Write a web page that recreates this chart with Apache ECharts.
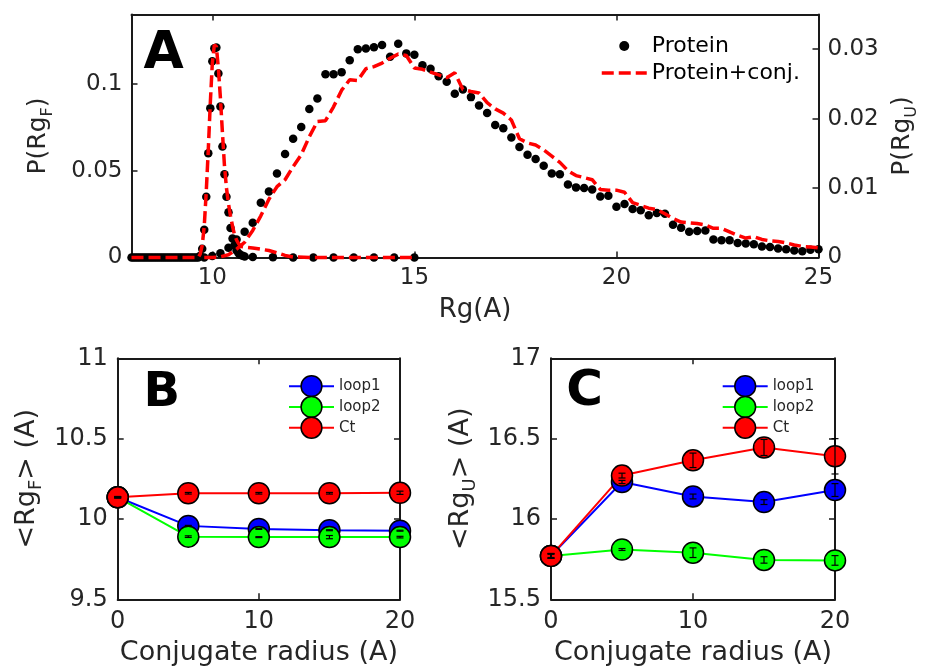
<!DOCTYPE html>
<html><head><meta charset="utf-8">
<script src="https://cdn.jsdelivr.net/npm/echarts@6/dist/echarts.min.js"></script>
<style>html,body{margin:0;padding:0;background:#fff}#c{width:927px;height:670px}</style>
</head><body><div id="c"></div>
<script>
// ---------- Panel A data ----------
// folded (left axis): Protein (dots)
const rgF = [8.00,8.05,8.10,8.15,8.20,8.25,8.30,8.35,8.40,8.45,8.50,8.55,8.60,8.65,8.70,8.75,8.80,8.85,8.90,8.95,
  9.00,9.05,9.10,9.15,9.20,9.25,9.30,9.35,9.40,9.45,9.50,9.55,9.60,9.65,
  9.70,9.75,9.80,9.85,9.90,9.95,10.00,10.05,10.10,10.15,10.20,10.25,10.30,10.35,10.40,10.45,10.50,10.55,10.60,10.65,10.70,10.75,10.80,
  11.0,11.5,12.0,12.5,13.0,13.5,14.0,14.5,15.0];
const pF = [0,0,0,0,0,0,0,0,0,0,0,0,0,0,0,0,0,0,0,0,
  0,0,0,0,0,0,0,0,0,0,0,0,0,0,
  0.001,0.005,0.016,0.035,0.060,0.086,0.113,0.1205,0.121,0.106,0.087,0.064,0.048,0.035,0.026,0.017,0.011,0.007,0.004,0.0025,0.0015,0.001,0.0006,
  0.0003,0.0001,0,0,0,0,0,0,0];
// folded (left axis): Protein+conj. (dashed)
const rgFc = [8.00,8.05,8.10,8.15,8.20,8.25,8.30,8.35,8.40,8.45,8.50,8.55,8.60,8.65,8.70,8.75,8.80,8.85,8.90,8.95,
  9.00,9.05,9.10,9.15,9.20,9.25,9.30,9.35,9.40,9.45,9.50,9.55,9.60,9.65,
  9.70,9.75,9.80,9.85,9.90,9.95,10.00,10.05,10.10,10.15,10.20,10.25,10.30,10.35,10.40,10.45,10.50,10.55,10.60,10.65,10.70,10.75,10.80,
  11.0,11.2,11.4,11.6,11.8,12.0,12.5,13.0,13.5,14.0,14.5,15.0];
const pFc = [0,0,0,0,0,0,0,0,0,0,0,0,0,0,0,0,0,0,0,0,
  0,0,0,0,0,0,0,0,0,0,0,0,0,0,
  0.002,0.007,0.018,0.038,0.062,0.089,0.112,0.1225,0.1215,0.109,0.092,0.072,0.053,0.040,0.031,0.024,0.018,0.013,0.010,0.008,0.0065,0.0062,0.006,
  0.0055,0.0048,0.004,0.0027,0.0012,0.0003,0,0,0,0,0,0];
// unfolded (right axis)
const rgU = [9.8,10.0,10.2,10.4,10.6,10.8,11.0,11.2,11.4,11.6,11.8,12.0,12.2,12.4,12.6,12.8,13.0,13.2,13.4,13.6,
  13.8,14.0,14.2,14.4,14.6,14.8,15.0,15.2,15.4,15.6,15.8,16.0,16.2,16.4,16.6,16.8,17.0,17.2,17.4,17.6,
  17.8,18.0,18.2,18.4,18.6,18.8,19.0,19.2,19.4,19.6,19.8,20.0,20.2,20.4,20.6,20.8,21.0,21.2,21.4,21.6,
  21.8,22.0,22.2,22.4,22.6,22.8,23.0,23.2,23.4,23.6,23.8,24.0,24.2,24.4,24.6,24.8,25.0];
const pU = [0,0.0002,0.0006,0.0014,0.0026,0.0037,0.0050,0.0079,0.0095,0.0121,
  0.0149,0.0171,0.0188,0.0214,0.0229,0.0264,0.0264,0.0267,0.0284,0.0300,
  0.0301,0.0303,0.0306,0.0289,0.0308,0.0294,0.0292,0.0277,0.0272,0.0261,
  0.0253,0.0236,0.0242,0.0231,0.0219,0.0208,0.0191,0.0186,0.0173,0.0159,
  0.0148,0.0142,0.0132,0.0121,0.0120,0.0105,0.0101,0.0100,0.0098,0.0088,
  0.0089,0.0073,0.0077,0.0070,0.0068,0.0061,0.0064,0.0063,0.0047,0.0043,
  0.0037,0.0038,0.0039,0.0026,0.0025,0.0025,0.0021,0.0020,0.0019,0.0016,
  0.0015,0.0013,0.0012,0.0010,0.0009,0.0011,0.0012];
const pUc = [0,0,0.0001,0.0004,0.0012,0.0022,0.0039,0.0060,0.0084,0.0102,
  0.0112,0.0131,0.0148,0.0174,0.0196,0.0197,0.0217,0.0241,0.0256,0.0255,
  0.0272,0.0275,0.0280,0.0287,0.0293,0.0291,0.0273,0.0271,0.0267,0.0263,
  0.0259,0.0266,0.0242,0.0239,0.0237,0.0223,0.0214,0.0208,0.0198,0.0171,
  0.0165,0.0162,0.0155,0.0146,0.0137,0.0125,0.0118,0.0115,0.0112,0.0098,
  0.0097,0.0097,0.0094,0.0079,0.0075,0.0071,0.0069,0.0063,0.0056,0.0051,
  0.0050,0.0049,0.0047,0.0042,0.0042,0.0037,0.0032,0.0028,0.0030,0.0026,
  0.0024,0.0023,0.0021,0.0018,0.0016,0.0015,0.0014];
const xTicksA = [10,15,20,25];
const yTicksAL = [0,0.05,0.1];
const yTicksAR = [0,0.01,0.02,0.03];

// ---------- Panels B and C data ----------
const radius = [0,5,10,15,20];
const loop1B = [10.135,9.957,9.938,9.930,9.927];
const loop1Be = [0.003,0.003,0.003,0.003,0.003];
const loop2B = [10.135,9.890,9.887,9.887,9.887];
const loop2Be = [0.003,0.005,0.003,0.010,0.005];
const ctB = [10.135,10.160,10.160,10.160,10.163];
const ctBe = [0.005,0.005,0.005,0.005,0.010];
const loop1C = [15.77,16.23,16.14,16.105,16.18];
const loop1Ce = [0.015,0.010,0.015,0.015,0.040];
const loop2C = [15.77,15.81,15.79,15.745,15.742];
const loop2Ce = [0.010,0.006,0.030,0.020,0.030];
const ctC = [15.77,16.27,16.365,16.445,16.39];
const ctCe = [0.015,0.015,0.045,0.050,0.110];

// ---------- style ----------
const FONT = 'DejaVu Sans';
const TXT = '#262626';
const AX = '#1a1a1a';
const zip = (a, b) => a.map((v, i) => [v, b[i]]);
const errData = (v, e) => radius.map((r, i) => [r, v[i] - e[i], v[i] + e[i]]);

function axLine(){ return {show:true,onZero:false,lineStyle:{color:AX,width:2}}; }
function axTick(extra){ return Object.assign({show:true,inside:true,length:6,lineStyle:{color:AX,width:1.5}}, extra||{}); }
function axLabel(fs, extra){ return Object.assign({fontSize:fs,color:TXT,fontFamily:FONT,margin:9}, extra||{}); }
function richName(main, sub, lh){
  return {fontFamily:FONT,color:TXT,rich:{
    a:{fontSize:main,fontFamily:FONT,color:TXT,lineHeight:lh,verticalAlign:'top'},
    s:{fontSize:sub,fontFamily:FONT,color:TXT,verticalAlign:'bottom'}}};
}

function errRender(params, api){
  const x = api.value(0), lo = api.value(1), hi = api.value(2);
  const p1 = api.coord([x, lo]), p2 = api.coord([x, hi]);
  const w = 3.5;
  const st = {stroke:'#000', lineWidth:1.2};
  return {type:'group', children:[
    {type:'line', shape:{x1:p1[0],y1:p1[1],x2:p2[0],y2:p2[1]}, style:st},
    {type:'line', shape:{x1:p1[0]-w,y1:p1[1],x2:p1[0]+w,y2:p1[1]}, style:st},
    {type:'line', shape:{x1:p2[0]-w,y1:p2[1],x2:p2[0]+w,y2:p2[1]}, style:st}
  ]};
}

function lineSeries(name, color, xi, yi, data){
  return {type:'line', name:name, xAxisIndex:xi, yAxisIndex:yi, data:data,
    symbol:'circle', symbolSize:21, showSymbol:true, clip:false,
    lineStyle:{color:color,width:2}, itemStyle:{color:color,borderColor:'#000',borderWidth:1.5,opacity:1},
    emphasis:{disabled:true}};
}
function errSeries(xi, yi, data){
  return {type:'custom', xAxisIndex:xi, yAxisIndex:yi, data:data, renderItem:errRender,
    encode:{x:0,y:[1,2]}, z:10, silent:true, clip:false};
}

const legBC = (left) => ({data:['loop1','loop2','Ct'], left:left, top:375, orient:'vertical', padding:0,
  itemWidth:45, itemHeight:26, itemGap:-1.5, selectedMode:false, lineStyle:{width:2},
  itemStyle:{borderColor:'#000',borderWidth:1.5}, textStyle:{fontSize:15,fontFamily:FONT,color:TXT}});

const chart = echarts.init(document.getElementById('c'), null, {renderer:'canvas'});
const option = {
  animation:false,
  backgroundColor:'#fff',
  grid:[
    {left:131.5, top:14.5, width:687, height:243, outerBoundsMode:'none', containLabel:false},
    {left:117.7, top:358.3, width:282.3, height:241, outerBoundsMode:'none', containLabel:false},
    {left:551, top:358.3, width:284, height:241, outerBoundsMode:'none', containLabel:false}
  ],
  xAxis:[
    {gridIndex:0, type:'value', position:'bottom', min:8, max:25, axisLine:axLine(),
     axisTick:axTick({customValues:xTicksA}), axisLabel:axLabel(23,{customValues:xTicksA}), splitLine:{show:false},
     name:'Rg(A)', nameLocation:'middle', nameGap:40, nameTextStyle:{fontSize:26,fontFamily:FONT,color:TXT}},
    {gridIndex:0, type:'value', position:'top', min:8, max:25, axisLine:axLine(),
     axisTick:axTick({customValues:xTicksA}), axisLabel:{show:false}, splitLine:{show:false}},
    {gridIndex:1, type:'value', position:'bottom', min:0, max:20, interval:10, axisLine:axLine(),
     axisTick:axTick(), axisLabel:axLabel(24,{margin:10}), splitLine:{show:false},
     name:'Conjugate radius (A)', nameLocation:'middle', nameGap:40, nameTextStyle:{fontSize:27,fontFamily:FONT,color:TXT}},
    {gridIndex:1, type:'value', position:'top', min:0, max:20, interval:10, axisLine:axLine(),
     axisTick:axTick(), axisLabel:{show:false}, splitLine:{show:false}},
    {gridIndex:2, type:'value', position:'bottom', min:0, max:20, interval:10, axisLine:axLine(),
     axisTick:axTick(), axisLabel:axLabel(24,{margin:10}), splitLine:{show:false},
     name:'Conjugate radius (A)', nameLocation:'middle', nameGap:40, nameTextStyle:{fontSize:27,fontFamily:FONT,color:TXT}},
    {gridIndex:2, type:'value', position:'top', min:0, max:20, interval:10, axisLine:axLine(),
     axisTick:axTick(), axisLabel:{show:false}, splitLine:{show:false}}
  ],
  yAxis:[
    {gridIndex:0, type:'value', position:'left', min:0, max:0.14, axisLine:axLine(),
     axisTick:axTick({customValues:yTicksAL}), axisLabel:axLabel(23,{customValues:yTicksAL}), splitLine:{show:false},
     name:'{a|P(Rg}{s|F}{a|)}', nameLocation:'middle', nameGap:76, nameTextStyle:richName(25,16,30)},
    {gridIndex:0, type:'value', position:'right', min:0, max:0.035, axisLine:axLine(),
     axisTick:axTick({customValues:yTicksAR}), axisLabel:axLabel(23,{customValues:yTicksAR}), splitLine:{show:false},
     name:'{a|P(Rg}{s|U}{a|)}', nameLocation:'middle', nameGap:70, nameTextStyle:richName(25,16,30)},
    {gridIndex:1, type:'value', position:'left', min:9.5, max:11, interval:0.5, axisLine:axLine(),
     axisTick:axTick(), axisLabel:axLabel(24,{margin:10}), splitLine:{show:false},
     name:'{a|<Rg}{s|F}{a|> (A)}', nameLocation:'middle', nameGap:72, nameTextStyle:richName(27,18,32)},
    {gridIndex:1, type:'value', position:'right', min:9.5, max:11, interval:0.5, axisLine:axLine(),
     axisTick:axTick(), axisLabel:{show:false}, splitLine:{show:false}},
    {gridIndex:2, type:'value', position:'left', min:15.5, max:17, interval:0.5, axisLine:axLine(),
     axisTick:axTick(), axisLabel:axLabel(24,{margin:10}), splitLine:{show:false},
     name:'{a|<Rg}{s|U}{a|> (A)}', nameLocation:'middle', nameGap:72, nameTextStyle:richName(27,18,32)},
    {gridIndex:2, type:'value', position:'right', min:15.5, max:17, interval:0.5, axisLine:axLine(),
     axisTick:axTick(), axisLabel:{show:false}, splitLine:{show:false}}
  ],
  legend:[
    {data:['Protein',{name:'Protein+conj.', itemStyle:{opacity:0}}], left:600, top:35, orient:'vertical', padding:0,
     itemWidth:45, itemHeight:10, itemGap:5, selectedMode:false, lineStyle:{width:3.5},
     textStyle:{fontSize:22,fontFamily:FONT,color:'#000',lineHeight:22}},
    legBC(288),
    legBC(721.7)
  ],
  graphic:[
    {type:'text', x:163.5, y:54, style:{text:'A', fontSize:52, fontWeight:'bold', fontFamily:FONT, fill:'#000', align:'center', verticalAlign:'middle'}},
    {type:'text', x:161.7, y:394, style:{text:'B', fontSize:48, fontWeight:'bold', fontFamily:FONT, fill:'#000', align:'center', verticalAlign:'middle'}},
    {type:'text', x:584.6, y:392.5, style:{text:'C', fontSize:50, fontWeight:'bold', fontFamily:FONT, fill:'#000', align:'center', verticalAlign:'middle'}}
  ],
  series:[
    {type:'scatter', name:'Protein', xAxisIndex:0, yAxisIndex:0, data:zip(rgF,pF), symbol:'circle', symbolSize:8.5,
     itemStyle:{color:'#000',opacity:1}, clip:false, emphasis:{disabled:true}},
    {type:'scatter', name:'Protein', xAxisIndex:0, yAxisIndex:1, data:zip(rgU,pU), symbol:'circle', symbolSize:8.5,
     itemStyle:{color:'#000',opacity:1}, clip:false, emphasis:{disabled:true}},
    {type:'line', name:'Protein+conj.', xAxisIndex:0, yAxisIndex:0, data:zip(rgFc,pFc), symbol:'none', showSymbol:false,
     lineStyle:{color:'#ff0000',width:3.5,type:[12,5]}, itemStyle:{color:'#ff0000'}, clip:false, z:3, emphasis:{disabled:true}},
    {type:'line', name:'Protein+conj.', xAxisIndex:0, yAxisIndex:1, data:zip(rgU,pUc), symbol:'none', showSymbol:false,
     lineStyle:{color:'#ff0000',width:3.5,type:[12,5]}, itemStyle:{color:'#ff0000'}, clip:false, z:3, emphasis:{disabled:true}},

    lineSeries('loop1','#0000ff',2,2,zip(radius,loop1B)),
    lineSeries('loop2','#00ff00',2,2,zip(radius,loop2B)),
    lineSeries('Ct','#ff0000',2,2,zip(radius,ctB)),
    errSeries(2,2,errData(loop1B,loop1Be)),
    errSeries(2,2,errData(loop2B,loop2Be)),
    errSeries(2,2,errData(ctB,ctBe)),

    lineSeries('loop1','#0000ff',4,4,zip(radius,loop1C)),
    lineSeries('loop2','#00ff00',4,4,zip(radius,loop2C)),
    lineSeries('Ct','#ff0000',4,4,zip(radius,ctC)),
    errSeries(4,4,errData(loop1C,loop1Ce)),
    errSeries(4,4,errData(loop2C,loop2Ce)),
    errSeries(4,4,errData(ctC,ctCe))
  ]
};
chart.setOption(option);
</script>
</body></html>
